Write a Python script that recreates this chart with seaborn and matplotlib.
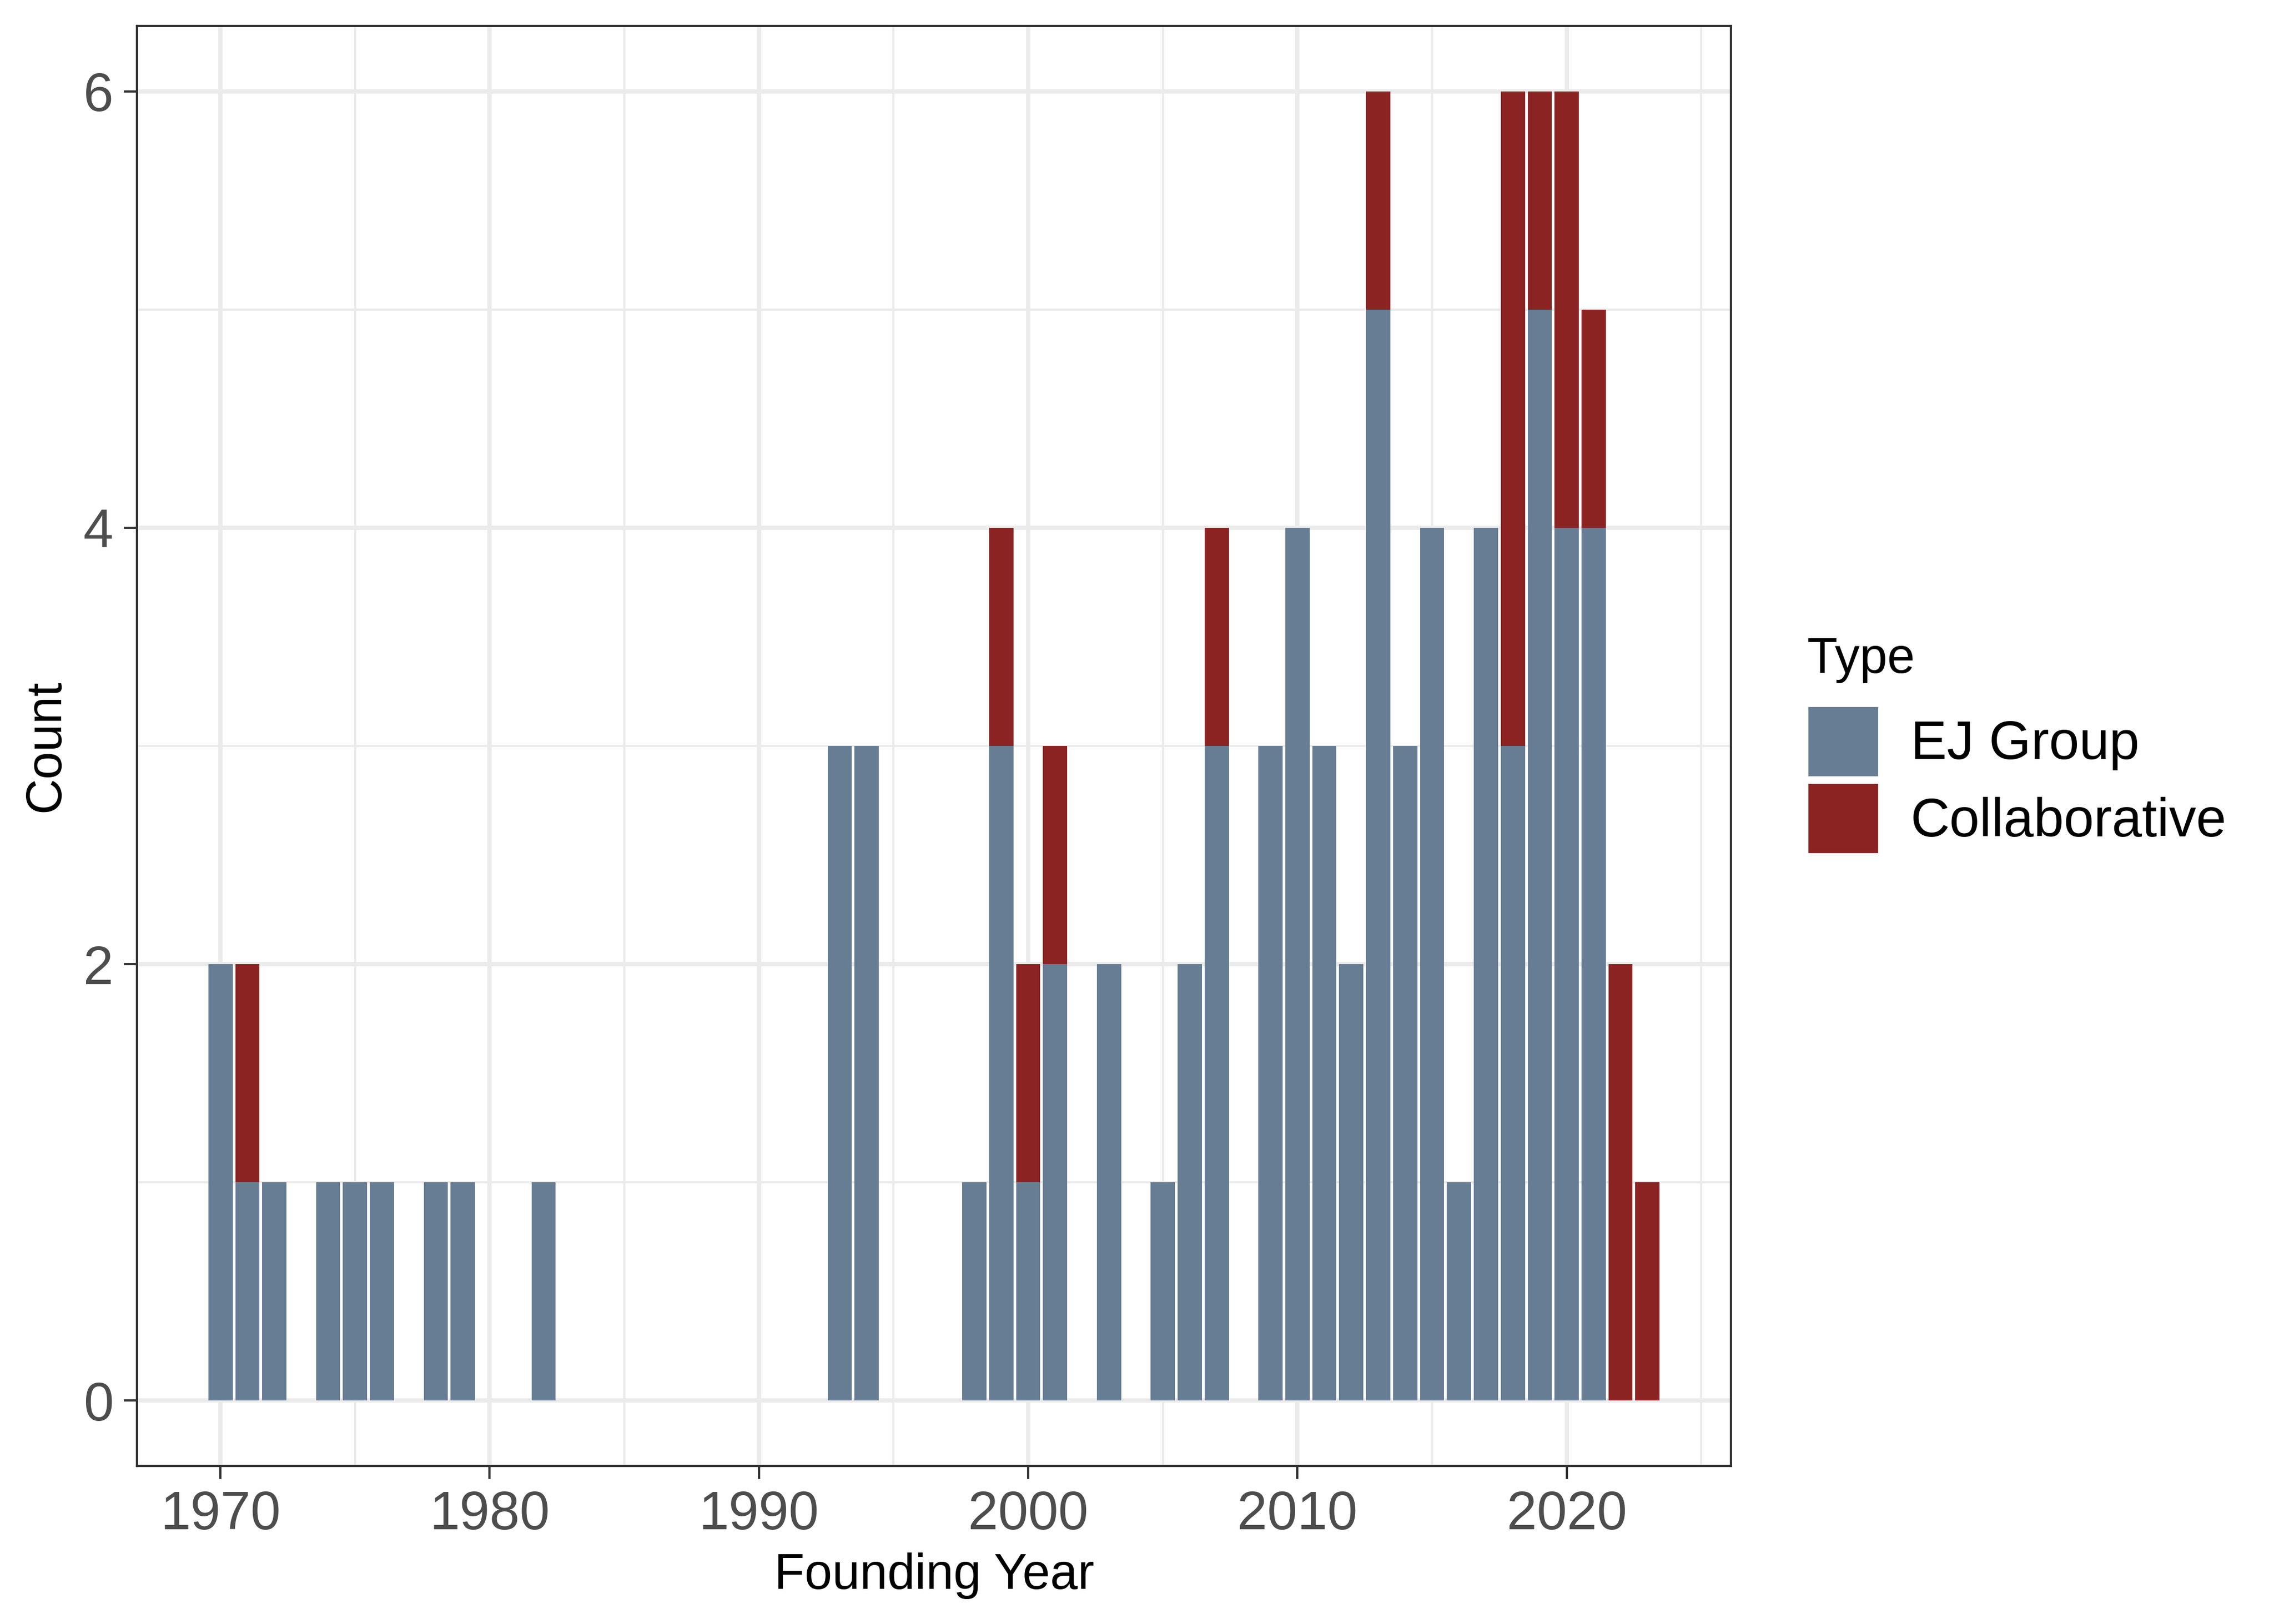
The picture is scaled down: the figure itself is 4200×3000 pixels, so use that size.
import matplotlib
matplotlib.use("Agg")
import matplotlib.pyplot as plt
from matplotlib.patches import Patch
from matplotlib.ticker import MultipleLocator
import seaborn as sns
import pandas as pd

# founding years and counts per type
years = [1970, 1971, 1972, 1974, 1975, 1976, 1978, 1979, 1982, 1993, 1994,
         1998, 1999, 2000, 2001, 2003, 2005, 2006, 2007, 2009, 2010, 2011,
         2012, 2013, 2014, 2015, 2016, 2017, 2018, 2019, 2020, 2021, 2022, 2023]
ej_group = [2, 1, 1, 1, 1, 1, 1, 1, 1, 3, 3,
            1, 3, 1, 2, 2, 1, 2, 3, 3, 4, 3,
            2, 5, 3, 4, 1, 4, 3, 5, 4, 4, 0, 0]
collaborative = [0, 1, 0, 0, 0, 0, 0, 0, 0, 0, 0,
                 0, 1, 1, 1, 0, 0, 0, 1, 0, 0, 0,
                 0, 1, 0, 0, 0, 0, 3, 1, 2, 1, 2, 1]
type_labels = ["EJ Group", "Collaborative"]
x_ticks = [1970, 1980, 1990, 2000, 2010, 2020]
y_ticks = [0, 2, 4, 6]

EJ_COLOR = "#677D94"
COLLAB_COLOR = "#8B2323"

df = pd.DataFrame({"year": years, "ej": ej_group, "collab": collaborative})
df["total"] = df["ej"] + df["collab"]

sns.set_theme(style="white")
plt.rcParams["font.family"] = ["Liberation Sans", "DejaVu Sans"]
plt.rcParams["text.color"] = "black"
plt.rcParams["axes.labelcolor"] = "black"

fig = plt.figure(figsize=(14, 10), dpi=300)
ax = fig.add_axes([253 / 4200, 1 - 2708 / 3000, (3197 - 253) / 4200, (2708 - 48) / 3000])

# stacked bars: full height in red, EJ part drawn over it in blue
sns.barplot(data=df, x="year", y="total", color=COLLAB_COLOR, native_scale=True,
            width=0.9, saturation=1, linewidth=0, errorbar=None, ax=ax)
sns.barplot(data=df, x="year", y="ej", color=EJ_COLOR, native_scale=True,
            width=0.9, saturation=1, linewidth=0, errorbar=None, ax=ax)

ax.set_xlim(1966.9, 2026.1)
ax.set_ylim(-0.3, 6.3)
ax.set_xticks(x_ticks)
ax.set_yticks(y_ticks)
ax.set_xticklabels([str(t) for t in x_ticks])
ax.set_yticklabels([str(t) for t in y_ticks])
ax.xaxis.set_minor_locator(MultipleLocator(5))
ax.yaxis.set_minor_locator(MultipleLocator(1))

ax.set_axisbelow(True)
ax.grid(which="major", color="#EBEBEB", linewidth=1.9)
ax.grid(which="minor", color="#EBEBEB", linewidth=0.95)

for sp in ax.spines.values():
    sp.set_color("#333333")
    sp.set_linewidth(1.0)

ax.tick_params(which="major", direction="out", length=5.7, width=1.0, color="#333333",
               labelsize=24, labelcolor="#4D4D4D", pad=4.8,
               bottom=True, left=True)
ax.tick_params(which="minor", length=0)

ax.set_xlabel("Founding Year", fontsize=22, color="black", labelpad=5.3)
ax.set_ylabel("Count", fontsize=22, color="black", labelpad=6)

handles = [Patch(facecolor=EJ_COLOR, label=type_labels[0]),
           Patch(facecolor=COLLAB_COLOR, label=type_labels[1])]
leg = ax.legend(handles=handles, title="Type", loc="upper left",
                bbox_to_anchor=(3338 / 4200, 1 - 1176 / 3000),
                bbox_transform=fig.transFigure, frameon=False,
                fontsize=24, title_fontsize=22, alignment="left",
                handlelength=1.33, handleheight=1.66, labelspacing=0.1,
                handletextpad=0.58, borderpad=0, borderaxespad=0,
                labelcolor="black")
leg.get_title().set_color("black")
leg._legend_box.sep = 10

fig.savefig("out.png", dpi=300, facecolor="white")
